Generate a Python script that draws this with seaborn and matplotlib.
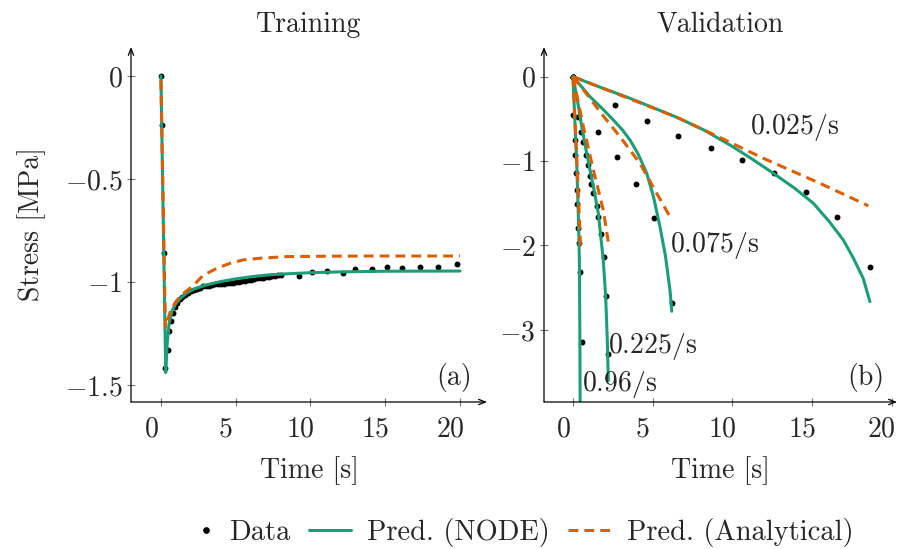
import numpy as np
import pandas as pd
import matplotlib
matplotlib.use("Agg")
import matplotlib.pyplot as plt
import matplotlib.transforms as mtransforms
from matplotlib.lines import Line2D
from matplotlib.legend_handler import HandlerLine2D
from matplotlib.ticker import FuncFormatter, FixedLocator
import seaborn as sns

# ---------------- data ----------------
# Training (a)
train_t = [0.0, 0.1, 0.2, 0.3, 0.45, 0.55, 0.65, 0.8, 0.95, 1.1, 1.25, 1.4, 1.6, 1.8,
           2.0, 2.2, 2.4, 2.6, 2.8, 3.0, 3.2, 3.4, 3.6, 3.8, 4.0, 4.2, 4.4, 4.6, 4.8,
           5.0, 5.2, 5.4, 5.6, 5.8, 6.0, 6.2, 6.4, 6.6, 6.8, 7.0, 7.2, 7.4, 7.6, 7.8,
           8.0, 9.2, 10.1, 11.1, 12.15, 13.0, 14.1, 15.1, 16.1, 17.3, 18.5, 19.8]
train_s = [0.0, -0.24, -0.86, -1.42, -1.33, -1.24, -1.19, -1.15, -1.12, -1.10, -1.085,
           -1.075, -1.065, -1.055, -1.045, -1.04, -1.035, -1.03, -1.022, -1.02, -1.018,
           -1.015, -1.012, -1.01, -1.01, -1.008, -1.005, -1.006, -1.003, -1.0, -0.998,
           -0.996, -0.995, -0.992, -0.99, -0.987, -0.983, -0.982, -0.979, -0.977,
           -0.975, -0.972, -0.971, -0.968, -0.966, -0.971, -0.953, -0.948, -0.955,
           -0.938, -0.938, -0.927, -0.930, -0.927, -0.927, -0.914]

train_node_t = [0.0, 0.32, 0.42, 0.55, 0.75, 1.0, 1.3, 1.7, 2.2, 3.0, 4.0, 5.0, 6.0,
                7.0, 8.0, 10.0, 12.0, 15.0, 20.0]
train_node_s = [0.0, -1.44, -1.30, -1.20, -1.14, -1.105, -1.08, -1.055, -1.035, -1.015,
                -0.998, -0.985, -0.975, -0.967, -0.962, -0.955, -0.951, -0.948, -0.947]

train_ana_t = [0.0, 0.3, 0.6, 0.95, 1.3, 1.6, 1.95, 2.4, 2.8, 3.3, 3.8, 4.6, 5.5, 6.6,
               8.4, 11.0, 14.0, 20.0]
train_ana_s = [-0.02, -1.22, -1.15, -1.10, -1.07, -1.05, -1.03, -1.0, -0.97, -0.95,
               -0.932, -0.91, -0.893, -0.885, -0.877, -0.875, -0.874, -0.874]

# Validation (b)
rates = ["0.025/s", "0.075/s", "0.225/s", "0.96/s"]

val_t_0025 = [0.0, 2.64, 4.62, 6.61, 8.64, 10.59, 12.64, 14.6, 16.55, 18.64]
val_s_0025 = [0.0, -0.335, -0.529, -0.703, -0.849, -0.987, -1.145, -1.366, -1.659, -2.258]
val_t_0075 = [0.0, 1.59, 2.74, 3.93, 5.08, 6.2]
val_s_0075 = [0.0, -0.651, -0.955, -1.271, -1.67, -2.685]
val_t_0225 = [0.0, 0.33, 0.50, 0.63, 0.80, 0.92, 1.07, 1.15, 1.28, 1.49, 1.59, 1.76,
              1.95, 2.09, 2.22]
val_s_0225 = [0.0, -0.481, -0.659, -0.77, -0.928, -1.046, -1.177, -1.268, -1.382,
              -1.532, -1.659, -1.86, -2.133, -2.6, -3.286]
val_t_096 = [0.0, 0.02, 0.10, 0.13, 0.19, 0.23, 0.27, 0.33, 0.40, 0.44, 0.55]
val_s_096 = [0.0, -0.454, -0.75, -0.928, -1.145, -1.342, -1.508, -1.796, -1.967, -2.31, -3.14]

node_t_0025 = [0.0, 1.5, 3.58, 6.5, 8.2, 9.86, 11.2, 12.58, 13.9, 15.09, 16.1, 16.97,
               17.6, 18.22, 18.64]
node_s_0025 = [0.0, -0.11, -0.256, -0.48, -0.63, -0.81, -0.97, -1.145, -1.32, -1.5,
               -1.72, -1.935, -2.15, -2.39, -2.666]
node_t_0075 = [0.0, 0.5, 1.07, 1.8, 2.53, 3.1, 3.58, 4.1, 4.63, 5.05, 5.46, 5.8, 6.09, 6.2]
node_s_0075 = [0.0, -0.11, -0.237, -0.37, -0.513, -0.63, -0.75, -0.92, -1.145, -1.42,
               -1.777, -2.12, -2.53, -2.78]
node_t_0225 = [0.0, 0.25, 0.55, 0.8, 1.07, 1.35, 1.59, 1.9, 2.05, 2.15, 2.22]
node_s_0225 = [0.0, -0.25, -0.59, -0.85, -1.105, -1.37, -1.62, -2.17, -2.6, -3.1, -3.6]
node_t_096 = [0.0, 0.1, 0.23, 0.33, 0.4, 0.43, 0.45]
node_s_096 = [0.0, -0.45, -0.99, -1.6, -2.17, -3.0, -3.9]

ana_t_0025 = [0.0, 3.0, 6.5, 9.0, 11.95, 15.5, 18.54]
ana_s_0025 = [0.0, -0.22, -0.48, -0.70, -0.967, -1.263, -1.53]
ana_t_0075 = [0.0, 0.8, 1.69, 2.95, 4.2, 5.25, 6.09]
ana_s_0075 = [0.0, -0.19, -0.415, -0.711, -1.026, -1.38, -1.66]
ana_t_0225 = [0.0, 0.65, 1.28, 1.9, 2.25]
ana_s_0225 = [0.0, -0.59, -1.105, -1.58, -2.0]
ana_t_096 = [0.0, 0.12, 0.24, 0.36, 0.47]
ana_s_096 = [0.0, -0.5, -1.0, -1.5, -2.0]

label_pos_t = [11.1, 6.09, 2.2, 0.56]
label_pos_s = [-0.6, -2.0, -3.2, -3.65]

xticks = [0, 5, 10, 15, 20]
yticks_a = [0, -0.5, -1, -1.5]
yticks_b = [0, -1, -2, -3]

# ---------------- style ----------------
sns.set_theme(style="white")
plt.rcParams["font.family"] = ["cmr10", "DejaVu Serif"]
plt.rcParams["mathtext.fontset"] = "cm"
plt.rcParams["axes.unicode_minus"] = False
FS = 20

GREEN = "#1b9e77"
ORANGE = "#d95f02"
LW = 2.2
DASH = (0, (3.2, 2.0))

fig = plt.figure(figsize=(9.01, 5.49), dpi=100)
axA = fig.add_axes([131 / 901, 147 / 549, 356 / 901, 355 / 549])
axB = fig.add_axes([544 / 901, 147 / 549, 353 / 901, 355 / 549])

# Panel (a)
sns.scatterplot(x=train_t, y=train_s, ax=axA, color="black", s=18, linewidth=0, zorder=2)
sns.lineplot(x=train_node_t, y=train_node_s, ax=axA, color=GREEN, lw=LW, sort=False,
             estimator=None, zorder=3)
sns.lineplot(x=train_ana_t, y=train_ana_s, ax=axA, color=ORANGE, lw=LW, sort=False,
             estimator=None, linestyle=DASH, zorder=4)

# Panel (b)
val_t = [val_t_0025, val_t_0075, val_t_0225, val_t_096]
val_s = [val_s_0025, val_s_0075, val_s_0225, val_s_096]
node_t = [node_t_0025, node_t_0075, node_t_0225, node_t_096]
node_s = [node_s_0025, node_s_0075, node_s_0225, node_s_096]
ana_t = [ana_t_0025, ana_t_0075, ana_t_0225, ana_t_096]
ana_s = [ana_s_0025, ana_s_0075, ana_s_0225, ana_s_096]

for i in range(4):
    sns.scatterplot(x=val_t[i], y=val_s[i], ax=axB, color="black", s=18, linewidth=0,
                    zorder=2)
for i in range(4):
    sns.lineplot(x=node_t[i], y=node_s[i], ax=axB, color=GREEN, lw=LW, sort=False,
                 estimator=None, zorder=3)
for i in range(4):
    sns.lineplot(x=ana_t[i], y=ana_s[i], ax=axB, color=ORANGE, lw=LW, sort=False,
                 estimator=None, linestyle=DASH, zorder=4)
for i, r in enumerate(rates):
    num, unit = r.split("/")
    axB.text(label_pos_t[i], label_pos_s[i], r"$%s/\mathrm{%s}$" % (num, unit),
             fontsize=FS, ha="left", va="center", zorder=5)

# ---------------- axes formatting ----------------
fmt = FuncFormatter(lambda v, p: r"$%g$" % v)
shift = mtransforms.ScaledTranslation(-10 / 100, 0, fig.dpi_scale_trans)

for ax, yt, ylim, xlim in [
    (axA, yticks_a, (-1.583, 0.141), (-2.0, 21.8)),
    (axB, yticks_b, (-3.855, 0.352), (-1.82, 20.34)),
]:
    ax.set_xlim(*xlim)
    ax.set_ylim(*ylim)
    ax.xaxis.set_major_locator(FixedLocator(xticks))
    ax.yaxis.set_major_locator(FixedLocator(yt))
    ax.xaxis.set_major_formatter(fmt)
    ax.yaxis.set_major_formatter(fmt)
    for s in ax.spines.values():
        s.set_visible(False)
    ax.tick_params(axis="both", which="major", direction="inout", length=6, width=0.8,
                   color="#777777", labelsize=FS, bottom=True, left=True)
    ax.tick_params(axis="x", pad=7)
    ax.tick_params(axis="y", pad=3)
    for lab in ax.get_xticklabels():
        lab.set_transform(lab.get_transform() + shift)
    ax.annotate("", xy=(1, 0), xytext=(0, 0), xycoords="axes fraction",
                arrowprops=dict(arrowstyle="->,head_width=0.16,head_length=0.4",
                                lw=0.9, color="black", shrinkA=0, shrinkB=0))
    ax.annotate("", xy=(0, 1), xytext=(0, 0), xycoords="axes fraction",
                arrowprops=dict(arrowstyle="->,head_width=0.16,head_length=0.4",
                                lw=0.9, color="black", shrinkA=0, shrinkB=0))
    ax.set_xlabel("Time [s]", fontsize=FS, labelpad=10)
    ax.set_ylabel("")

axA.set_ylabel("Stress [MPa]", fontsize=FS, labelpad=14)
axA.set_title("Training", fontsize=FS, pad=11)
axB.set_title("Validation", fontsize=FS, pad=11)
axA.text(0.958, 0.068, "(a)", transform=axA.transAxes, fontsize=FS, ha="right", va="center")
axB.text(0.963, 0.068, "(b)", transform=axB.transAxes, fontsize=FS, ha="right", va="center")


class RightMarkerHandler(HandlerLine2D):
    """Single marker placed near the right end of the handle box."""
    def get_xdata(self, legend, xdescent, ydescent, width, height, fontsize):
        m = width - xdescent - 5.0
        xd = np.array([m - 1.0, m + 1.0])
        return xd, np.array([m])


data_handle = Line2D([], [], marker="o", linestyle="none", color="black", markersize=3.8)
handles = [
    data_handle,
    Line2D([], [], color=GREEN, lw=LW),
    Line2D([], [], color=ORANGE, lw=LW, linestyle=DASH),
]
fig.legend(handles, ["Data", "Pred. (NODE)", "Pred. (Analytical)"], loc="center",
           bbox_to_anchor=(0.568, 0.03), ncol=3, frameon=False, fontsize=20.5,
           handlelength=1.5, handletextpad=0.55, columnspacing=0.65,
           handler_map={data_handle: RightMarkerHandler(numpoints=1)})

fig.savefig("out.png", dpi=100)
